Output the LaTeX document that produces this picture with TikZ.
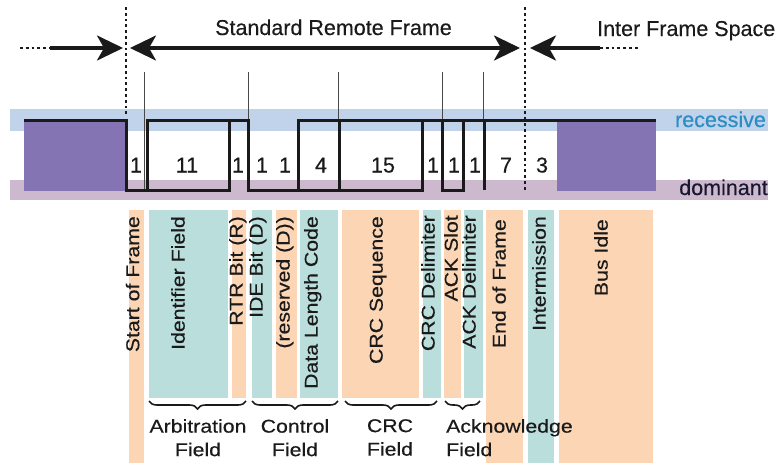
\documentclass[tikz,border=0pt]{standalone}
\usepackage{fontspec}
\setmainfont[FakeBold=0.35]{Liberation Sans}
\newfontfamily\labf[FakeStretch=1.15,FakeBold=0.35]{Liberation Sans}
\usetikzlibrary{arrows.meta,decorations.pathreplacing}
\definecolor{recband}{HTML}{C0D3EA}
\definecolor{domband}{HTML}{CDB9CD}
\definecolor{idle}{HTML}{8474B4}
\definecolor{peach}{HTML}{FCD5B4}
\definecolor{teal}{HTML}{B9DEDC}
\definecolor{rectext}{HTML}{2C8DC4}
\definecolor{ink}{HTML}{1A1A1A}
\tikzset{
  sig/.style={line width=3pt, ink, line join=miter},
  marker/.style={line width=1pt, ink!80},
  dotline/.style={line width=2.8pt, ink, dash pattern=on 2.8pt off 3pt},
  arrline/.style={line width=3.4pt, ink},
  bigtip/.style={-{Stealth[length=26pt,width=25pt,inset=7pt]}},
  brc/.style={decorate, decoration={brace,mirror,amplitude=8pt}, line width=1.6pt, ink},
  vlab/.style={rotate=90, anchor=mid east, inner sep=0pt, text=ink, font=\labf\fontsize{18.5}{20}\selectfont},
  flab/.style={inner sep=0pt, text=ink, align=center, font=\labf\fontsize{18.5}{23.5}\selectfont},
  digit/.style={anchor=base, inner sep=0pt, text=ink, font=\fontsize{21.5}{24}\selectfont},
  toptext/.style={inner sep=0pt, text=ink, font=\fontsize{21.5}{24}\selectfont},
}
\begin{document}
\begin{tikzpicture}[x=1pt,y=-1pt]
\useasboundingbox (0,0) rectangle (778,466);
% level bands
\fill[recband] (10,109) rectangle (768,131);
\fill[domband] (10,180) rectangle (768,200);
\fill[idle] (24,120) rectangle (125,191);
\fill[idle] (557,121) rectangle (656,191);
% field columns
\fill[peach] (129,210) rectangle (144,463);
\fill[teal]  (149,210) rectangle (228,398);
\fill[peach] (232,210) rectangle (246,398);
\fill[teal]  (252,210) rectangle (272,398);
\fill[peach] (276,210) rectangle (297,398);
\fill[teal]  (300,210) rectangle (338,398);
\fill[peach] (342,210) rectangle (419,398);
\fill[teal]  (423,210) rectangle (441,398);
\fill[peach] (444,210) rectangle (461,398);
\fill[teal]  (464,210) rectangle (483,398);
\fill[peach] (486,210) rectangle (523,463);
\fill[teal]  (528,210) rectangle (554,463);
\fill[peach] (559,210) rectangle (653,463);
% thin bit markers
\foreach \x in {144,248,338,442,483} \draw[marker] (\x,72) -- (\x,120);
\draw[marker] (144,120) -- (144,190);
% signal
\draw[sig] (24,120) -- (126,120) -- (126,190) -- (147,190) -- (147,120) -- (248,120)
  -- (248,190) -- (298,190) -- (298,120) -- (656,120);
\draw[sig] (147,190) -- (229,190) -- (229,120);
\draw[sig] (298,190) -- (422,190) -- (422,120);
\draw[sig] (339,120) -- (339,190);
\draw[sig] (442,120) -- (442,190) -- (463,190) -- (463,120);
\draw[sig] (484,120) -- (484,190);
% frame boundaries
\coordinate (b1top) at (126,7);
\coordinate (b1bot) at (126,114);
\coordinate (b2top) at (525,7);
\coordinate (b2bot) at (525,191);
\draw[dotline] (b1top) -- (b1bot);
\draw[dotline] (b2top) -- (b2bot);
% top arrows
\coordinate (l0) at (20,48);
\coordinate (l1) at (50,48);
\coordinate (l2) at (123,48);
\coordinate (s1) at (130,48);
\coordinate (s2) at (520,48);
\coordinate (r2) at (530,48);
\coordinate (r1) at (600,48);
\coordinate (r0) at (640,48);
\draw[dotline] (l0) -- (l1);
\draw[arrline, bigtip] (l1) -- (l2);
\draw[arrline, {Stealth[length=26pt,width=25pt,inset=7pt]}-{Stealth[length=26pt,width=25pt,inset=7pt]}] (s1) -- (s2);
\draw[arrline, bigtip] (r1) -- (r2);
\draw[dotline] (r1) -- (r0);
\node[toptext, anchor=base] (srf) at (333.5,35) {Standard Remote Frame};
\node[toptext, anchor=base west] (ifs) at (597,36) {Inter Frame Space};
% level labels
\node[anchor=base, inner sep=0pt, text=rectext, font=\fontsize{21.5}{24}\selectfont] (rec) at (720.5,127) {recessive};
\node[anchor=base, inner sep=0pt, text=ink!90!blue, font=\fontsize{21.5}{24}\selectfont] (dom) at (723.5,195) {dominant};
% bit counts
\node[digit] (d1) at (136,172.5) {1};
\node[digit] (d2) at (187,172.5) {11};
\node[digit] (d3) at (238,172.5) {1};
\node[digit] (d4) at (262,172.5) {1};
\node[digit] (d5) at (285,172.5) {1};
\node[digit] (d6) at (321,172.5) {4};
\node[digit] (d7) at (383,172.5) {15};
\node[digit] (d8) at (433,172.5) {1};
\node[digit] (d9) at (454,172.5) {1};
\node[digit] (d10) at (475,172.5) {1};
\node[digit] (d11) at (506,172.5) {7};
\node[digit] (d12) at (542,172.5) {3};
% vertical field names
\node[vlab] (v1) at (136.5,216) {Start of Frame};
\node[vlab] (v2) at (182,216) {Identifier Field};
\node[vlab] (v3) at (240,216) {RTR Bit (R)};
\node[vlab] (v4) at (260,216) {IDE Bit (D)};
\node[vlab] (v5) at (287,216) {(reserved (D))};
\node[vlab] (v6) at (315,216) {Data Length Code};
\node[vlab] (v7) at (380,216) {CRC Sequence};
\node[vlab] (v8) at (432,215) {CRC Delimiter};
\node[vlab] (v9) at (455,215) {ACK Slot};
\node[vlab] (v10) at (473,215) {ACK Delimiter};
\node[vlab] (v11) at (503,219) {End of Frame};
\node[vlab] (v12) at (543,216) {Intermission};
\node[vlab] (v13) at (605,219) {Bus Idle};
% braces
\draw[brc] (149,401) -- (246,401);
\draw[brc] (252,401) -- (338,401);
\draw[brc] (345,401) -- (437,401);
\draw[brc] (445,401) -- (480,401);
\node[flab, anchor=north] (g1) at (198,419) {Arbitration\\Field};
\node[flab, anchor=north] (g2) at (295,419) {Control\\Field};
\node[flab, anchor=north] (g3) at (390,419) {CRC\\Field};
\node[flab, anchor=north west, align=left] (g4) at (446,419) {Acknowledge\\Field};
\end{tikzpicture}
\end{document}
